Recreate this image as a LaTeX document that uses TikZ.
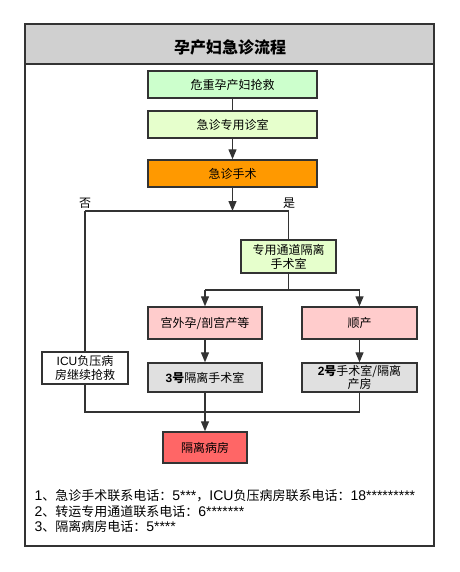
\documentclass[tikz,border=0pt]{standalone}
\usepackage{fontspec}
\setmainfont{Noto Sans CJK SC}
\newfontfamily\lat{Liberation Sans}
\usepackage{xcolor}
\usepackage{tikz}
\usetikzlibrary{positioning,arrows.meta,calc}
\definecolor{headbg}{RGB}{208,208,208}
\definecolor{rescuebg}{RGB}{204,255,204}
\definecolor{clinicbg}{RGB}{230,255,204}
\definecolor{surgbg}{RGB}{255,153,0}
\definecolor{deliverbg}{RGB}{255,204,204}
\definecolor{roombg}{RGB}{224,224,224}
\definecolor{wardbg}{RGB}{255,102,102}
\definecolor{edge}{RGB}{51,51,51}
\newcommand{\notelat}[1]{{\lat\fontsize{14}{14}\selectfont #1}}

\begin{document}
\begin{tikzpicture}[x=1pt, y=-1pt,
    box/.style={rectangle, draw=edge, line width=1.4pt, align=center, font=\fontsize{12}{14}\selectfont, inner sep=1pt},
    link/.style={draw=edge, line width=1.3pt},
    arr/.style={link, -{Triangle[width=8pt,length=10pt]}},
    note/.style={anchor=west, font=\fontsize{13}{14}\selectfont},
]
    \useasboundingbox (0,0) rectangle (459,572);
    % frame and header
    \draw[draw=edge, line width=1.5pt, fill=headbg] (25,24) rectangle (434,64);
    \draw[draw=edge, line width=1.5pt] (25,64) rectangle (434,546);
    \node[font=\fontsize{16}{18}\selectfont\bfseries] (title) at (230,47) {孕产妇急诊流程};

    \node[box, fill=rescuebg, minimum width=169pt, minimum height=27pt] (rescue) at (232.5,84.5) {危重孕产妇抢救};
    \node[box, fill=clinicbg, minimum width=169pt, minimum height=27pt] (clinic) at (232.5,124.5) {急诊专用诊室};
    \node[box, fill=surgbg, minimum width=169pt, minimum height=27pt] (surgery) at (232.5,173.5) {急诊手术};
    \node[box, fill=clinicbg, minimum width=95pt, minimum height=33pt] (channel) at (288.5,256.5) {专用通道隔离\\手术室};
    \node[box, fill=deliverbg, minimum width=114pt, minimum height=32pt] (ectopic) at (205,323) {宫外孕/剖宫产等};
    \node[box, fill=deliverbg, minimum width=115pt, minimum height=32pt] (normal) at (359.5,323) {顺产};
    \node[box, fill=roombg, minimum width=114pt, minimum height=29pt] (room3) at (205,377.5) {{\lat\bfseries 3}\textbf{号}隔离手术室};
    \node[box, fill=roombg, minimum width=115pt, minimum height=29pt, font=\fontsize{12}{13}\selectfont] (room2) at (359.5,377.5) {{\lat\bfseries 2}\textbf{号}手术室/隔离\\产房};
    \node[box, fill=white, minimum width=86pt, minimum height=32pt, font=\fontsize{12}{13.5}\selectfont] (icu) at (85,368) {{\lat ICU}负压病\\房继续抢救};
    \node[box, fill=wardbg, minimum width=84pt, minimum height=31pt] (ward) at (205,447.5) {隔离病房};

    \coordinate (fork) at (232.5,211);
    \coordinate (no) at (85,211);
    \coordinate (yes) at (288.5,211);
    \coordinate (split) at (288.5,290);
    \coordinate (splitL) at (205,290);
    \coordinate (splitR) at (359.5,290);
    \coordinate (mergeL) at (85,412);
    \coordinate (mergeR) at (359.5,412);

    \node[font=\fontsize{12}{14}\selectfont] (nolabel) at (85,203) {否};
    \node[font=\fontsize{12}{14}\selectfont] (yeslabel) at (289,203) {是};

    \draw[link] (rescue) -- (clinic);
    \draw[arr] (clinic) -- (surgery);
    \draw[arr] (surgery) -- (fork);
    \draw[link] (no) -- (yes);
    \draw[link] (no) -- (icu);
    \draw[link] (yes) -- (channel);
    \draw[link] (channel) -- (split);
    \draw[link] (splitL) -- (splitR);
    \draw[arr] (splitL) -- (ectopic);
    \draw[arr] (splitR) -- (normal);
    \draw[arr] (ectopic) -- (room3);
    \draw[arr] (normal) -- (room2);
    \draw[link] (icu) -- (mergeL) -- (mergeR) -- (room2);
    \draw[arr] (room3) -- (ward);

    % notes
    \node[note] (note1) at (31,496) {\notelat{1}、急诊手术联系电话：\notelat{5***}，\notelat{ICU}负压病房联系电话：\notelat{18*********}};
    \node[note] (note2) at (31,512) {\notelat{2}、转运专用通道联系电话：\notelat{6*******}};
    \node[note] (note3) at (31,527) {\notelat{3}、隔离病房电话：\notelat{5****}};
\end{tikzpicture}
\end{document}
